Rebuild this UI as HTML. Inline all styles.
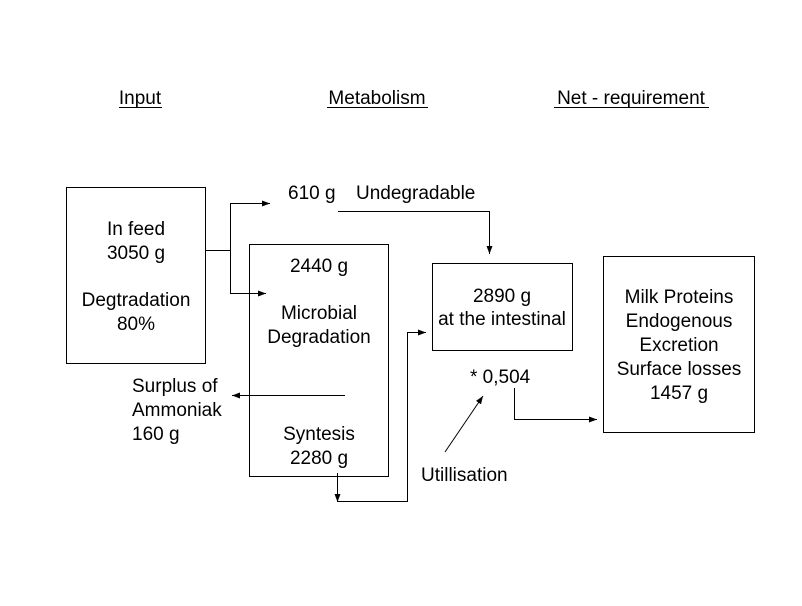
<!DOCTYPE html>
<html><head><style>
body{margin:0;width:802px;height:601px;background:#fff;font-family:"Liberation Sans",Arial,sans-serif;overflow:hidden}
svg text{font-family:"Liberation Sans",Arial,sans-serif;font-size:19px;fill:#000}
</style></head><body>
<svg width="802" height="601" viewBox="0 0 802 601" xmlns="http://www.w3.org/2000/svg">
<defs><marker id="a" markerWidth="8" markerHeight="6" refX="8" refY="3" orient="auto" markerUnits="userSpaceOnUse"><path d="M0,0L8,3L0,6z" fill="#000"/></marker></defs>
<g text-anchor="middle">
<text x="140" y="104">Input</text>
<text x="377" y="104">Metabolism</text>
<text x="631" y="104">Net - requirement</text>
</g>
<g stroke="#000" stroke-width="1" fill="none">
<line x1="119" y1="107.5" x2="162" y2="107.5"/>
<line x1="327" y1="107.5" x2="428" y2="107.5"/>
<line x1="554" y1="107.5" x2="709" y2="107.5"/>
<rect x="66.5" y="187.5" width="139" height="176"/>
<rect x="249.5" y="244.5" width="139" height="232"/>
<rect x="432.5" y="263.5" width="140" height="87"/>
<rect x="603.5" y="256.5" width="151" height="176"/>
<polyline points="205,250.5 230.5,250.5"/>
<polyline points="230.5,293 230.5,203.5 270,203.5" marker-end="url(#a)"/>
<polyline points="230.5,250 230.5,293.5 266,293.5" marker-end="url(#a)"/>
<polyline points="338,211.5 489.5,211.5 489.5,254" marker-end="url(#a)"/>
<polyline points="345,395.5 232,395.5" marker-end="url(#a)"/>
<polyline points="337.5,473 337.5,502" marker-end="url(#a)"/>
<polyline points="337.5,501.5 407.5,501.5 407.5,332.5 426,332.5" marker-end="url(#a)"/>
<polyline points="514.5,388 514.5,419.5 597,419.5" marker-end="url(#a)"/>
<line x1="445" y1="452" x2="483" y2="396" marker-end="url(#a)"/>
</g>
<g text-anchor="middle">
<text x="136" y="235">In feed</text>
<text x="136" y="259">3050 g</text>
<text x="136" y="306">Degtradation</text>
<text x="136" y="330">80%</text>
<text x="319" y="272">2440 g</text>
<text x="319" y="319">Microbial</text>
<text x="319" y="343">Degradation</text>
<text x="319" y="440">Syntesis</text>
<text x="319" y="464">2280 g</text>
<text x="502" y="302">2890 g</text>
<text x="502" y="325">at the intestinal</text>
<text x="679" y="303">Milk Proteins</text>
<text x="679" y="327">Endogenous</text>
<text x="679" y="351">Excretion</text>
<text x="679" y="375">Surface losses</text>
<text x="679" y="399">1457 g</text>
</g>
<text x="288" y="199">610 g</text>
<text x="356" y="199">Undegradable</text>
<text x="132" y="392">Surplus of</text>
<text x="132" y="416">Ammoniak</text>
<text x="132" y="440">160 g</text>
<text x="470" y="383">* 0,504</text>
<text x="421" y="481">Utillisation</text>
</svg>
</body></html>
